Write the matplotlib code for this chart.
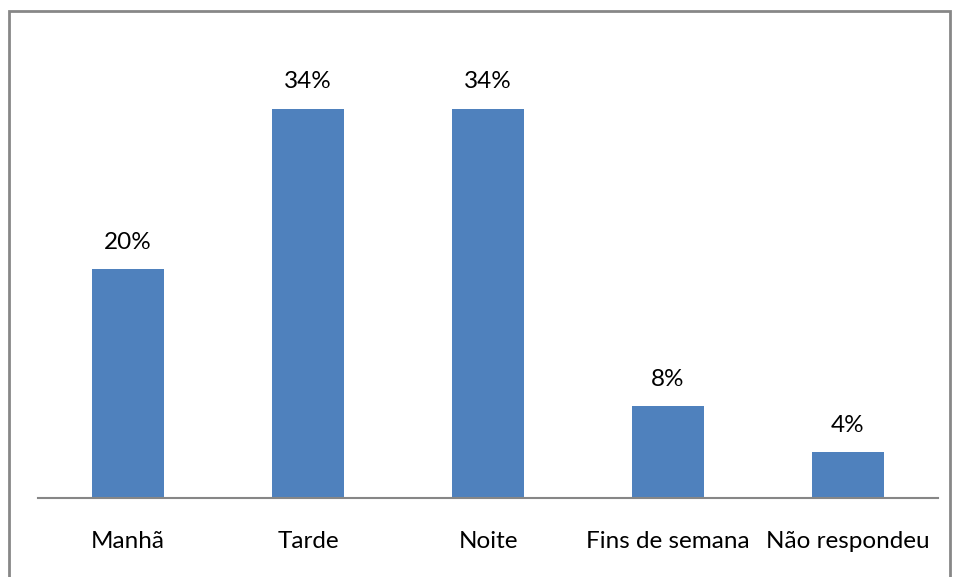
import matplotlib.pyplot as plt
from matplotlib.patches import Rectangle

categories = ["Manhã", "Tarde", "Noite", "Fins de semana", "Não respondeu"]
percent = [20, 34, 34, 8, 4]

W, H = 955, 577
fig = plt.figure(figsize=(W / 100, H / 100), dpi=100)
plt.rcParams['font.family'] = ['Lato', 'DejaVu Sans']

# axes: x 38..938 px, baseline at y=498 px
left, right = 38, 938
base, top = 498, 30
ax = fig.add_axes([left / W, 1 - base / H, (right - left) / W, (base - top) / H])
ymax = (base - top) / 11.44

x = range(len(categories))
bars = ax.bar(x, percent, width=0.4, color="#4f81bd")
ax.set_xlim(-0.5, len(categories) - 0.5)
ax.set_ylim(0, ymax)

for b, v in zip(bars, percent):
    ax.annotate(f"{v}%", (b.get_x() + b.get_width() / 2, v), xytext=(0, 12),
                textcoords="offset points", ha="center", va="bottom", fontsize=17.5)

ax.set_xticks(list(x))
ax.set_xticklabels(categories, fontsize=17.5)
ax.tick_params(axis="x", length=0, pad=24)
ax.set_yticks([])
for s in ["top", "right", "left"]:
    ax.spines[s].set_visible(False)
ax.spines["bottom"].set_color("#868686")
ax.spines["bottom"].set_linewidth(1.5)

# outer chart border
fig.patches.append(Rectangle((8.5 / W, -0.05), (950 - 8.5) / W, 1.05 - 10.5 / H,
                             transform=fig.transFigure, fill=False,
                             edgecolor="#878787", linewidth=2))

fig.savefig("out.png", dpi=100)
